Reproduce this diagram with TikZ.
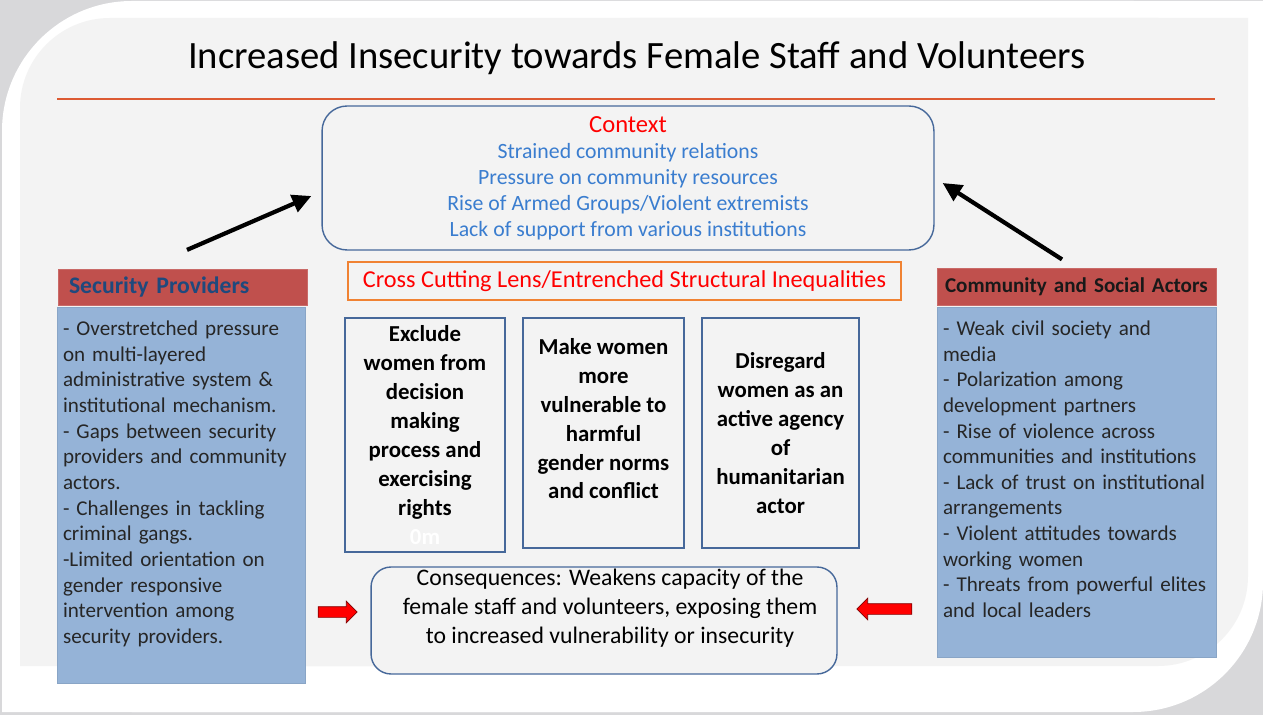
\documentclass[tikz,border=0pt]{standalone}
\usepackage{fontspec}
\setmainfont{Carlito}
\usetikzlibrary{arrows.meta,shapes.arrows}
\definecolor{backdrop}{HTML}{D8D8DA}
\definecolor{panel}{HTML}{F3F3F3}
\definecolor{rule line}{HTML}{DC5A32}
\definecolor{box edge}{HTML}{46689A}
\definecolor{context blue}{HTML}{3A7DCF}
\definecolor{lens edge}{HTML}{F08232}
\definecolor{head red}{HTML}{C0504D}
\definecolor{head blue}{HTML}{1F497D}
\definecolor{body blue}{HTML}{95B3D7}
\tikzset{roundbox/.style={draw=box edge, thick, fill=panel, rounded corners=0.5cm, align=center},
	lensbox/.style={draw=lens edge, thick, fill=panel, text=red, font=\fontsize{13.8}{15}\selectfont},
	pillar/.style={draw=box edge, thick, fill=panel, align=center, inner sep=0pt,
		font=\fontsize{13}{16.5}\selectfont\bfseries},
	header/.style={fill=head red, draw=head red!85!white, minimum height=0.73cm, inner ysep=0pt, align=left},
	listbox/.style={fill=body blue, draw=body blue!92!black, inner xsep=0.12cm, inner ysep=0pt, align=left,
		text=black!85, font=\fontsize{12}{14.6}\selectfont},
	push/.style={-{Triangle[length=0.38cm,width=0.36cm]}, line width=2.4pt},
	blockarrow/.style={single arrow, fill=red, draw=red!50!black, inner sep=0.1cm, minimum width=0.42cm,
		single arrow head extend=0.11cm}}

\begin{document}
\begin{tikzpicture}[x=0.02cm, y=-0.02cm]
	\useasboundingbox (0,0) rectangle (1263,715);
	% frame and panel
	\fill[backdrop] (0,0) rectangle (1263,715);
	\fill[white, rounded corners=2.6cm] (2,1) rectangle (1263,712);
	\fill[white] (630,1) rectangle (1263,356) (2,356) rectangle (630,712);
	\fill[panel, rounded corners=1.8cm] (20,18) rectangle (1248,666);
	\fill[panel] (630,18) rectangle (1248,340) (20,340) rectangle (630,666);
	
	\node[font=\fontsize{22}{26}\selectfont] (title) at (637,58) {Increased Insecurity towards Female Staff and Volunteers};
	\draw[rule line, line width=1.2pt] (57,99) -- (1215,99);
	
	\node[roundbox, minimum width=12.24cm, minimum height=2.88cm, text=context blue,
		font=\fontsize{12.4}{14.8}\selectfont] (ctx) at (628,178)
		{{\color{red}\fontsize{14}{15}\selectfont Context}\\ Strained community relations\\
		Pressure on community resources\\ Rise of Armed Groups/Violent extremists\\
		Lack of support from various institutions};
	\node[lensbox, minimum width=11.06cm, minimum height=0.76cm] (lens) at (624.5,281)
		{Cross Cutting Lens/Entrenched Structural Inequalities};
	
	\node[pillar, minimum width=3.2cm, minimum height=4.68cm] (excl) at (425,435)
		{Exclude\\ women from\\ decision\\ making\\ process and\\ exercising\\ rights\\ \textcolor{white}{0m}};
	\node[pillar, minimum width=3.22cm, minimum height=4.6cm] (vuln) at (603.5,433)
		{Make women\\ more\\ vulnerable to\\ harmful\\ gender norms\\ and conflict\\ \mbox{}};
	\node[pillar, minimum width=3.14cm, minimum height=4.6cm] (agen) at (780.5,433)
		{Disregard\\ women as an\\ active agency\\ of\\ humanitarian\\ actor};
	
	% the two sides
	\node[header, text width=4.54cm, inner xsep=0.22cm, text=head blue,
		font=\fontsize{13.5}{15}\selectfont\bfseries] (sph) at (182.5,287.5) {Security Providers};
	\node[listbox, text width=4.72cm, minimum height=7.52cm] (spl) at (181,495)
		{- Overstretched pressure\\ on multi-layered\\ administrative system \&\\ institutional mechanism.\\
		- Gaps between security\\ providers and community\\ actors.\\ - Challenges in tackling\\
		criminal gangs.\\ -Limited orientation on\\ gender responsive\\ intervention among\\
		security providers.\\ \mbox{}};
	\node[header, text width=5.26cm, inner xsep=0.16cm, text=black!90,
		font=\fontsize{12}{14}\selectfont\bfseries] (cah) at (1076.5,287) {Community and Social Actors};
	\node[listbox, text width=5.34cm, minimum height=7cm] (cal) at (1076.5,482)
		{- Weak civil society and\\ media\\ - Polarization among\\ development partners\\
		- Rise of violence across\\ communities and institutions\\ - Lack of trust on institutional\\
		arrangements\\ - Violent attitudes towards\\ working women\\ - Threats from powerful elites\\
		and local leaders\\ \mbox{}};
	
	\node[roundbox, minimum width=9.32cm, minimum height=2.14cm, rounded corners=0.4cm] (csq) at (604,620.5) {};
	\node[anchor=north, align=center, inner sep=0pt, font=\fontsize{13.5}{16.5}\selectfont] (csqtext)
		at ([shift={(6,2)}]csq.north) {Consequences: Weakens capacity of the\\
		female staff and volunteers, exposing them\\ to increased vulnerability or insecurity};
	
	\draw[push] ([shift={(4.5,-19)}]sph.north) -- ([shift={(-10,18)}]ctx.west);
	\draw[push] ([shift={(-14.5,-9)}]cah.north) -- ([shift={(8,5)}]ctx.east);
	\node[blockarrow, minimum height=0.78cm] (inleft) at (335,612) {};
	\node[blockarrow, minimum height=1.1cm, shape border rotate=180] (inright) at (887,609) {};
\end{tikzpicture}
\end{document}
